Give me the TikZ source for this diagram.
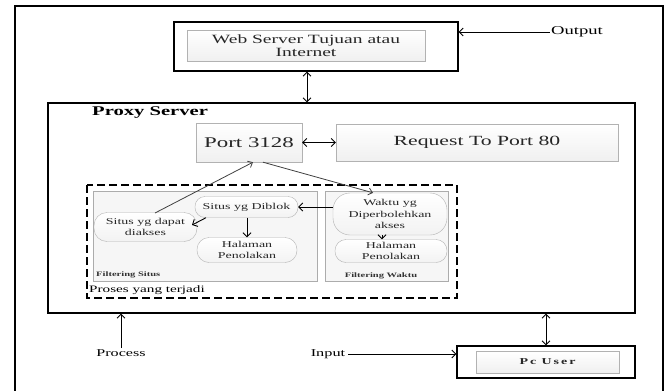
\documentclass[tikz,border=0pt]{standalone}
\usepackage{fontspec}
\setmainfont{Liberation Serif}[FakeStretch=1.55]
\usetikzlibrary{arrows.meta,shadows}
\newcommand{\fsz}[2]{\fontsize{#1}{#2}\selectfont}

\begin{document}
\begin{tikzpicture}[x=1pt,y=-1pt,
  frame/.style={draw, line width=1.1pt, inner sep=0pt},
  lbox/.style={draw=gray!60, top color=white, bottom color=gray!12, inner sep=0pt, text=black!85,
    drop shadow={opacity=.25, shadow xshift=1pt, shadow yshift=-1pt}},
  panel/.style={draw=gray!65, fill=gray!7, line width=.8pt, inner sep=0pt},
  oval/.style={draw=gray!60, rounded corners=10pt, top color=white, bottom color=gray!10,
    inner sep=0pt, align=center, text=black!85, font=\fsz{9}{11.5}},
  link/.style={{Straight Barb[length=4pt,width=8pt]}-{Straight Barb[length=4pt,width=8pt]}, line width=.9pt},
  arr/.style={-{Straight Barb[length=4pt,width=8pt]}, line width=.9pt},
  garr/.style={-{Straight Barb[length=4pt,width=7pt]}, draw=black!75, line width=.8pt}]
        \clip (0,0) rectangle (667,391);
        \draw[line width=1.2pt] (15,400) -- (15,6) -- (663,6) -- (663,400);

        \node[frame, minimum width=284pt, minimum height=49pt] (W0) at (316,46.5) {};
        \node[lbox, minimum width=238pt, minimum height=31pt, align=center, font=\fsz{12.6}{13}] (W) at (306,45.5) {Web Server Tujuan atau\\Internet};

        \node[frame, minimum width=587pt, minimum height=210pt] (P) at (341.5,208) {};
        \node[anchor=west, font=\bfseries\fsz{13.3}{14}, inner sep=0pt] (PS) at (92,113) {Proxy Server};
        \node[lbox, minimum width=106pt, minimum height=39pt, font=\fsz{14.8}{16}] (P1) at (249,142.5) {Port 3128};
        \node[lbox, minimum width=282pt, minimum height=37pt, font=\fsz{14}{15}] (R) at (477,142.5) {Request To Port 80};

        \draw[dashed, line width=1.1pt, dash pattern=on 8pt off 4pt] (87,185) rectangle (457,298);
        \node[panel, minimum width=224pt, minimum height=90pt] (FS) at (205,236) {};
        \node[panel, minimum width=123pt, minimum height=90pt] (FW) at (386.5,236) {};
        \node[anchor=west, inner sep=0pt, font=\bfseries\fsz{6.8}{7}, text=black!80] (FSt) at (96,275) {Filtering Situs};
        \node[inner sep=0pt, font=\bfseries\fsz{6.8}{7}, text=black!80] (FWt) at (381,276) {Filtering Waktu};
        \node[anchor=west, inner sep=0pt, font=\fsz{9.8}{10}] (PT) at (89,290) {Proses yang terjadi};

        \node[oval, minimum width=103pt, minimum height=29pt, rounded corners=13pt] (S1) at (145.5,227) {Situs yg dapat\\diakses};
        \node[oval, minimum width=103pt, minimum height=21pt] (S2) at (246.5,207) {Situs yg Diblok};
        \node[oval, minimum width=100pt, minimum height=25pt, rounded corners=12pt] (S3) at (247,250) {Halaman\\Penolakan};
        \node[oval, minimum width=114pt, minimum height=42pt, rounded corners=17pt] (T1) at (390,214) {Waktu yg\\Diperbolehkan\\akses};
        \node[oval, minimum width=112pt, minimum height=23pt, rounded corners=11pt] (T2) at (391,251) {Halaman\\Penolakan};

        \node[frame, minimum width=178pt, minimum height=32pt] (U0) at (546,362) {};
        \node[lbox, minimum width=143pt, minimum height=22pt, font=\bfseries\fsz{9}{9}\addfontfeatures{LetterSpace=22}] (U) at (547.5,362) {Pc User};

        \node[inner sep=1pt, font=\fsz{12}{13}] (O) at (577,32) {Output};
        \node[inner sep=1pt, font=\fsz{10.5}{12}] (I) at (328,354) {Input};
        \node[inner sep=1pt, font=\fsz{10.4}{12}, anchor=north] (PR) at (121,348) {Process};

        \draw[link] (W0.south -| 307,0) -- (P.north -| 307,0);
        \draw[link] (P1.east) -- (R.west);
        \draw[link] (P.south -| 546,0) -- (U0.north -| 546,0);
        \draw[arr] (O.west) -- (W0.east |- O.west);
        \draw[arr] (I.east) ++(2,0) -- (U0.west |- I.east);
        \draw[arr] (PR.north) -- (P.south -| PR.north);

        \draw[garr] (155,213) -- (P1.south -| 253,0);
        \draw[garr] (P1.south -| 263,0) -- (T1.north -| 373,0);
        \draw[arr] (T1.west |- S2.east) -- (S2.east);
        \draw[arr] (S2.south -| 206,0) -- (192,225);
        \draw[arr] (S2.south -| 247,0) -- (S3.north -| 247,0);
        \draw[arr] (T1.south -| 382,0) -- (T2.north -| 382,0);
      \end{tikzpicture}
\end{document}
